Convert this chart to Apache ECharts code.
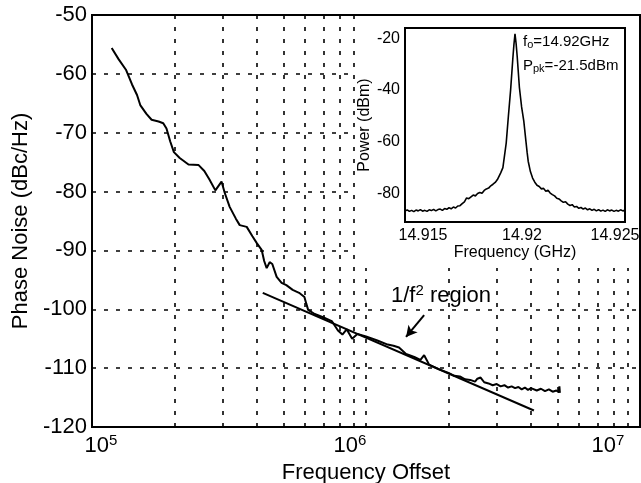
<!DOCTYPE html>
<html><head><meta charset="utf-8">
<script src="https://cdn.jsdelivr.net/npm/echarts@6/dist/echarts.min.js"></script>
<style>html,body{margin:0;padding:0;background:#fff}#c{width:641px;height:483px}</style>
</head><body><div id="c"></div><script>
const FONT = '"Liberation Sans", Arial, Helvetica, sans-serif';

// Main plot: phase noise vs offset frequency [Hz, dBc/Hz]
const phaseNoise = [
  [1.18e5,-55.6],[1.25e5,-57.5],[1.33e5,-59.3],[1.40e5,-61.8],[1.46e5,-63.6],[1.50e5,-65.3],
  [1.58e5,-66.8],[1.65e5,-67.8],[1.75e5,-68.1],[1.82e5,-68.4],[1.87e5,-69.3],[1.93e5,-71.5],
  [1.99e5,-73.3],[2.09e5,-74.3],[2.25e5,-75.4],[2.45e5,-75.5],[2.57e5,-76.5],[2.68e5,-77.9],
  [2.82e5,-79.8],[2.97e5,-78.3],[3.05e5,-80.2],[3.18e5,-82.6],[3.35e5,-84.6],[3.46e5,-85.7],
  [3.67e5,-86.0],[3.85e5,-87.6],[4.0e5,-88.8],[4.16e5,-89.9],[4.25e5,-91.8],[4.34e5,-93.0],
  [4.45e5,-92.0],[4.55e5,-92.3],[4.72e5,-94.5],[4.92e5,-95.5],[5.12e5,-95.9],[5.4e5,-96.7],
  [5.7e5,-97.2],[5.96e5,-97.9],[6.05e5,-99.0],[6.15e5,-100.1],[6.5e5,-100.8],[7.0e5,-101.4],
  [7.5e5,-102.0],[7.9e5,-103.6],[8.2e5,-104.3],[8.5e5,-103.4],[8.9e5,-105.0],[9.3e5,-104.2],
  [1.0e6,-104.6],[1.1e6,-105.3],[1.2e6,-106.0],[1.26e6,-106.2],[1.32e6,-106.5],[1.4e6,-107.6],
  [1.5e6,-108.1],[1.58e6,-108.6],[1.63e6,-107.8],[1.7e6,-109.4],[1.85e6,-110.2],[2.0e6,-110.8],
  [2.1e6,-111.3],[2.2e6,-111.4],[2.3e6,-111.9],[2.4e6,-112.0],[2.5e6,-112.3],[2.55e6,-111.8],
  [2.62e6,-111.6],[2.7e6,-112.4],[2.8e6,-112.6],[2.9e6,-112.9],[3.0e6,-112.7],[3.1e6,-113.1],
  [3.2e6,-112.9],[3.3e6,-113.3],[3.4e6,-113.1],[3.5e6,-113.4],[3.6e6,-113.2],[3.7e6,-113.6],
  [3.8e6,-113.3],[3.9e6,-113.7],[4.0e6,-113.4],[4.2e6,-113.8],[4.35e6,-113.5],[4.5e6,-113.9],
  [4.65e6,-113.6],[4.8e6,-114.0],[4.95e6,-113.8],[5.05e6,-114.1],[5.08e6,-113.1],[5.1e6,-114.2]
];
// 1/f^2 fitted line
const fitLine = [[4.2e5,-97.2],[4.1e6,-117.2]];
// arrow of the "1/f^2 region" note (from, to)
const arrowFrom = [1.63e6,-101.0];
const arrowTo = [1.40e6,-104.7];

// Inset: spectrum [GHz, dBm]
const spectrum = [
  [14.9150,-86.8],[14.9151,-86.3],[14.9152,-86.9],[14.9153,-86.5],[14.9154,-87.0],[14.9155,-86.4],
  [14.9156,-86.7],[14.9157,-86.2],[14.9158,-86.8],[14.9159,-86.5],[14.9160,-86.9],[14.9161,-86.3],
  [14.9162,-86.6],[14.9163,-86.1],[14.9164,-86.7],[14.9165,-86.2],[14.9166,-86.0],[14.9167,-86.5],
  [14.9168,-85.8],[14.9169,-86.1],[14.9170,-85.5],[14.9171,-85.9],[14.9172,-85.2],[14.9173,-85.6],
  [14.9174,-84.8],[14.9175,-84.7],[14.9176,-83.9],[14.9177,-83.2],[14.9178,-81.7],[14.9179,-82.0],
  [14.9180,-81.3],[14.9181,-80.6],[14.9182,-80.9],[14.9183,-80.0],[14.9184,-79.6],[14.9185,-79.9],
  [14.9186,-78.8],[14.9187,-78.2],[14.9188,-77.9],[14.9189,-77.0],[14.9190,-76.4],[14.9191,-75.7],
  [14.9192,-74.6],[14.91935,-72.0],[14.91945,-70.0],[14.9196,-60.5],[14.9197,-50.0],[14.9198,-40.0],
  [14.9199,-28.0],[14.91995,-22.5],[14.9200,-18.3],[14.92005,-22.0],[14.9201,-27.0],[14.9202,-39.0],
  [14.9203,-46.5],[14.9204,-52.0],[14.9205,-60.0],[14.92055,-64.0],[14.9206,-67.5],[14.9207,-71.5],
  [14.9208,-74.0],[14.9209,-75.6],[14.9210,-76.8],[14.9211,-77.3],[14.9212,-78.2],[14.9213,-78.0],
  [14.9214,-79.1],[14.9215,-78.7],[14.9216,-79.8],[14.9217,-80.4],[14.9218,-80.9],[14.9219,-81.8],
  [14.9220,-82.1],[14.9221,-82.8],[14.9222,-83.4],[14.9223,-83.2],[14.9224,-84.1],[14.9225,-84.6],
  [14.9226,-84.3],[14.9227,-85.2],[14.9228,-85.0],[14.9229,-85.7],[14.9230,-85.4],[14.9231,-86.0],
  [14.9232,-85.6],[14.9233,-86.3],[14.9234,-85.9],[14.9235,-86.5],[14.9236,-86.1],[14.9237,-86.7],
  [14.9238,-86.2],[14.9239,-86.8],[14.9240,-86.4],[14.9241,-86.9],[14.9242,-86.3],[14.9243,-86.7],
  [14.9244,-86.4],[14.9245,-86.9],[14.9246,-86.5],[14.9247,-86.8],[14.9248,-86.3],[14.9249,-86.7],
  [14.9250,-86.5]
];

// Axes / ticks
const mainXRange = [1e5, 1e7];
const mainYRange = [-120, -50];
const mainYStep = 10;
const mainXGrid = [2e5,3e5,4e5,5e5,6e5,7e5,8e5,9e5,1e6,2e6,3e6,4e6,5e6,6e6,7e6,8e6,9e6];
const mainYGrid = [-110,-100,-90,-80,-70,-60];
const insetLeftFreq = 9e5;   // horizontal grid lines under the inset stop here
const insetBottomDb = -93;   // vertical grid lines under the inset stop here
const insetXRange = [14.915, 14.925];
const insetYRange = [-91, -16];
const insetXTicks = [14.915,14.916,14.917,14.918,14.919,14.92,14.921,14.922,14.923,14.924,14.925];
const insetXLabels = [14.915, 14.92, 14.925];
const insetYTicks = [-90,-80,-70,-60,-50,-40,-30,-20];
const insetYLabels = [-80,-60,-40,-20];

// grid segments (drawn through axis scales)
const gridSegs = [];
mainYGrid.forEach(y => {
  const xEnd = y > insetBottomDb ? insetLeftFreq : mainXRange[1];
  gridSegs.push([{coord:[mainXRange[0], y]}, {coord:[xEnd, y]}]);
});
mainXGrid.forEach(x => {
  const yEnd = x > insetLeftFreq ? insetBottomDb : mainYRange[1];
  gridSegs.push([{coord:[x, mainYRange[0]]}, {coord:[x, yEnd]}]);
});

const chart = echarts.init(document.getElementById('c'), null, {renderer:'canvas'});
const black = '#000';
const MF = 22, IF = 16;
const supStyle = (pad) => ({fontSize: 15, fontFamily: FONT, color: black, verticalAlign: 'bottom', padding: [0, pad, 9, 0]});
chart.setOption({
  animation: false,
  backgroundColor: '#fff',
  textStyle: {fontFamily: FONT, color: black},
  grid: [
    {left: 92, top: 15, right: 1, bottom: 56, show: true, borderColor: black, borderWidth: 2, backgroundColor: 'transparent', containLabel: false, outerBoundsMode: 'none'},
    {left: 405, top: 28, right: 16, bottom: 261, show: true, borderColor: black, borderWidth: 2, backgroundColor: '#fff', z: 3, containLabel: false, outerBoundsMode: 'none'}
  ],
  xAxis: [
    {
      type: 'log', logBase: 10, gridIndex: 0, min: mainXRange[0], max: mainXRange[1],
      axisLine: {show: true, lineStyle: {color: black, width: 2}},
      axisTick: {show: false}, splitLine: {show: false}, minorTick: {show: false},
      axisLabel: {
        margin: 6, color: black, hideOverlap: false,
        formatter: v => { const e = Math.round(Math.log10(v)); return '{b' + e + '|10}{s' + e + '|' + e + '}'; },
        rich: {
          b5: {fontSize: MF, fontFamily: FONT, color: black, verticalAlign: 'bottom', padding: [0,0,0,18]},
          b6: {fontSize: MF, fontFamily: FONT, color: black, verticalAlign: 'bottom'},
          b7: {fontSize: MF, fontFamily: FONT, color: black, verticalAlign: 'bottom'},
          s5: supStyle(0),
          s6: supStyle(32),
          s7: supStyle(64)
        }
      },
      name: 'Frequency Offset', nameLocation: 'middle', nameGap: 31,
      nameTextStyle: {fontSize: MF, color: black, fontFamily: FONT}
    },
    {
      type: 'value', gridIndex: 1, min: insetXRange[0], max: insetXRange[1],
      axisLine: {show: true, lineStyle: {color: black, width: 2}},
      axisTick: {show: true, inside: true, length: 4, customValues: insetXTicks, lineStyle: {color: black, width: 1.5}},
      splitLine: {show: false},
      axisLabel: {
        customValues: insetXLabels, margin: 6, color: black, hideOverlap: false,
        formatter: v => { const s = String(+(+v).toFixed(3)); const k = Math.round((v - 14.915) * 1000); return '{l' + k + '|' + s + '}'; },
        rich: {
          l0: {fontSize: IF, fontFamily: FONT, color: black, padding: [0,0,0,36]},
          l5: {fontSize: IF, fontFamily: FONT, color: black, padding: [0,0,0,14]},
          l10: {fontSize: IF, fontFamily: FONT, color: black, padding: [0,20,0,0]}
        }
      },
      name: 'Frequency (GHz)', nameLocation: 'middle', nameGap: 22,
      nameTextStyle: {fontSize: IF, color: black, fontFamily: FONT}
    },
    {
      type: 'value', gridIndex: 1, position: 'top', min: insetXRange[0], max: insetXRange[1],
      axisLine: {show: false},
      axisTick: {show: true, inside: true, length: 4, customValues: insetXTicks, lineStyle: {color: black, width: 1.5}},
      axisLabel: {show: false}, splitLine: {show: false}
    }
  ],
  yAxis: [
    {
      type: 'value', gridIndex: 0, min: mainYRange[0], max: mainYRange[1], interval: mainYStep,
      axisLine: {show: true, lineStyle: {color: black, width: 2}},
      axisTick: {show: false}, splitLine: {show: false},
      axisLabel: {fontSize: MF, color: black, margin: 5, fontFamily: FONT},
      name: 'Phase Noise (dBc/Hz)', nameLocation: 'middle', nameGap: 58,
      nameTextStyle: {fontSize: MF, color: black, fontFamily: FONT}
    },
    {
      type: 'value', gridIndex: 1, min: insetYRange[0], max: insetYRange[1],
      axisLine: {show: true, lineStyle: {color: black, width: 2}},
      axisTick: {show: true, inside: true, length: 4, customValues: insetYTicks, lineStyle: {color: black, width: 1.5}},
      splitLine: {show: false},
      axisLabel: {customValues: insetYLabels, fontSize: IF, color: black, margin: 5, fontFamily: FONT},
      name: 'Power (dBm)', nameLocation: 'middle', nameGap: 31,
      nameTextStyle: {fontSize: IF, color: black, fontFamily: FONT}
    },
    {
      type: 'value', gridIndex: 1, position: 'right', min: insetYRange[0], max: insetYRange[1],
      axisLine: {show: false},
      axisTick: {show: true, inside: true, length: 4, customValues: insetYTicks, lineStyle: {color: black, width: 1.5}},
      axisLabel: {show: false}, splitLine: {show: false}
    }
  ],
  series: [
    {
      name: 'fit', type: 'line', xAxisIndex: 0, yAxisIndex: 0, data: fitLine, showSymbol: false, z: 1,
      lineStyle: {color: black, width: 2},
      markLine: {
        silent: true, animation: false, symbol: ['none','none'], label: {show: false},
        lineStyle: {color: black, type: [4, 8], width: 1.6},
        emphasis: {disabled: true},
        data: gridSegs
      }
    },
    {
      name: 'phase noise', type: 'line', xAxisIndex: 0, yAxisIndex: 0, data: phaseNoise, showSymbol: false, z: 3,
      lineStyle: {color: black, width: 2},
      markLine: {
        silent: true, animation: false, symbol: ['none','arrow'], symbolSize: [9, 11], label: {show: false},
        lineStyle: {color: black, type: 'solid', width: 2},
        emphasis: {disabled: true},
        data: [[{coord: arrowFrom}, {coord: arrowTo}]]
      }
    },
    {
      name: 'spectrum', type: 'line', xAxisIndex: 1, yAxisIndex: 1, data: spectrum, showSymbol: false, z: 5,
      lineStyle: {color: black, width: 1.6}
    }
  ],
  graphic: [
    {type: 'text', left: 391, top: 283, z: 10, style: {
      text: '{a|1/f}{s|2}{a| region}', fill: black,
      rich: {a: {fontSize: MF, fontFamily: FONT, fill: black, verticalAlign: 'bottom'}, s: {fontSize: 15, fontFamily: FONT, fill: black, verticalAlign: 'bottom', padding: [0,0,9,0]}}
    }},
    {type: 'text', left: 523, top: 34, z: 10, style: {
      text: '{a|f}{b|o}{a|=14.92GHz}', fill: black,
      rich: {a: {fontSize: 15, fontFamily: FONT, fill: black}, b: {fontSize: 11, fontFamily: FONT, fill: black, verticalAlign: 'bottom', padding: [6,0,0,0]}}
    }},
    {type: 'text', left: 523, top: 58, z: 10, style: {
      text: '{a|P}{b|pk}{a|=-21.5dBm}', fill: black,
      rich: {a: {fontSize: 15, fontFamily: FONT, fill: black}, b: {fontSize: 11, fontFamily: FONT, fill: black, verticalAlign: 'bottom', padding: [6,0,0,0]}}
    }}
  ]
});
</script></body></html>
